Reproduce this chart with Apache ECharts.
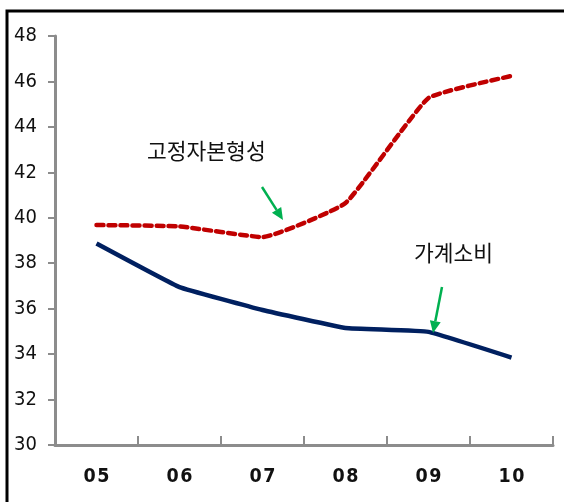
<!DOCTYPE html>
<html>
<head>
<meta charset="utf-8">
<script src="https://cdn.jsdelivr.net/npm/echarts@6/dist/echarts.min.js"></script>
<style>
  html, body { margin: 0; padding: 0; background: #fff; }
  #chart { width: 564px; height: 502px; }
</style>
</head>
<body>
<div id="chart"></div>
<script>
// Years (two-digit labels) and the two ratio series
const years = ['05', '06', '07', '08', '09', '10'];
const fixedCapital = [39.68, 39.62, 39.15, 40.65, 45.27, 46.24];   // 고정자본형성
const householdConsumption = [38.87, 36.95, 35.94, 35.15, 34.98, 33.85]; // 가계소비

const yMin = 30, yMax = 48, yStep = 2;
const narrowFont = '"DejaVu Sans Condensed", "Liberation Sans Narrow", sans-serif';
const krFont = '"Noto Sans CJK KR", "Noto Sans", sans-serif';
const arrowGreen = '#00b050';

const chart = echarts.init(document.getElementById('chart'), null, { renderer: 'canvas' });

function arrow(x1, y1, x2, y2) {
  const ang = Math.atan2(y2 - y1, x2 - x1);
  const L = 12, W = 5.5;
  const bx = x2 - L * Math.cos(ang), by = y2 - L * Math.sin(ang);
  const px = -Math.sin(ang) * W, py = Math.cos(ang) * W;
  return [
    { type: 'line', shape: { x1, y1, x2: bx, y2: by }, style: { stroke: arrowGreen, lineWidth: 2.5 }, z: 20 },
    { type: 'polygon', shape: { points: [[x2, y2], [bx + px, by + py], [bx - px, by - py]] }, style: { fill: arrowGreen }, z: 20 }
  ];
}

chart.setOption({
  animation: false,
  backgroundColor: '#ffffff',
  grid: { left: 55, right: 11, top: 36, bottom: 57 },
  xAxis: {
    type: 'category',
    data: years,
    boundaryGap: true,
    axisLine: { lineStyle: { color: '#8c8c8c', width: 3 } },
    axisTick: { show: true, inside: true, length: 9, alignWithLabel: false, lineStyle: { color: '#8c8c8c', width: 2 } },
    axisLabel: { color: '#111', fontFamily: narrowFont, fontWeight: 'bold', fontSize: 19.5, margin: 22,
      formatter: v => v.split('').join('\u200A') },
    splitLine: { show: false }
  },
  yAxis: {
    type: 'value',
    min: yMin, max: yMax, interval: yStep,
    axisLine: { show: true, lineStyle: { color: '#8c8c8c', width: 3 } },
    axisTick: { show: true, inside: false, length: 7, lineStyle: { color: '#8c8c8c', width: 2 } },
    axisLabel: { color: '#111', fontFamily: narrowFont, fontSize: 20, margin: 18 },
    splitLine: { show: false }
  },
  series: [
    {
      name: '고정자본형성',
      type: 'line',
      data: fixedCapital,
      smooth: 0.12,
      symbol: 'none',
      lineStyle: { color: '#c00000', width: 4.5, type: [7, 5], cap: 'round' },
      z: 5
    },
    {
      name: '가계소비',
      type: 'line',
      data: householdConsumption,
      smooth: 0.08,
      symbol: 'none',
      lineStyle: { color: '#002060', width: 4.5 },
      z: 6
    }
  ],
  graphic: [
    { type: 'rect', shape: { x: 7, y: 11, width: 620, height: 620 }, style: { fill: null, stroke: '#000', lineWidth: 3 }, z: 30, silent: true },
    { type: 'text', left: 147, top: 140, style: { text: '고정자본형성', font: '21.5px ' + krFont, fill: '#111' }, z: 20 },
    { type: 'text', left: 414, top: 242, style: { text: '가계소비', font: '21.5px ' + krFont, fill: '#111' }, z: 20 },
    ...arrow(262, 187, 283, 220),
    ...arrow(442, 287, 433, 333)
  ]
});
</script>
</body>
</html>
